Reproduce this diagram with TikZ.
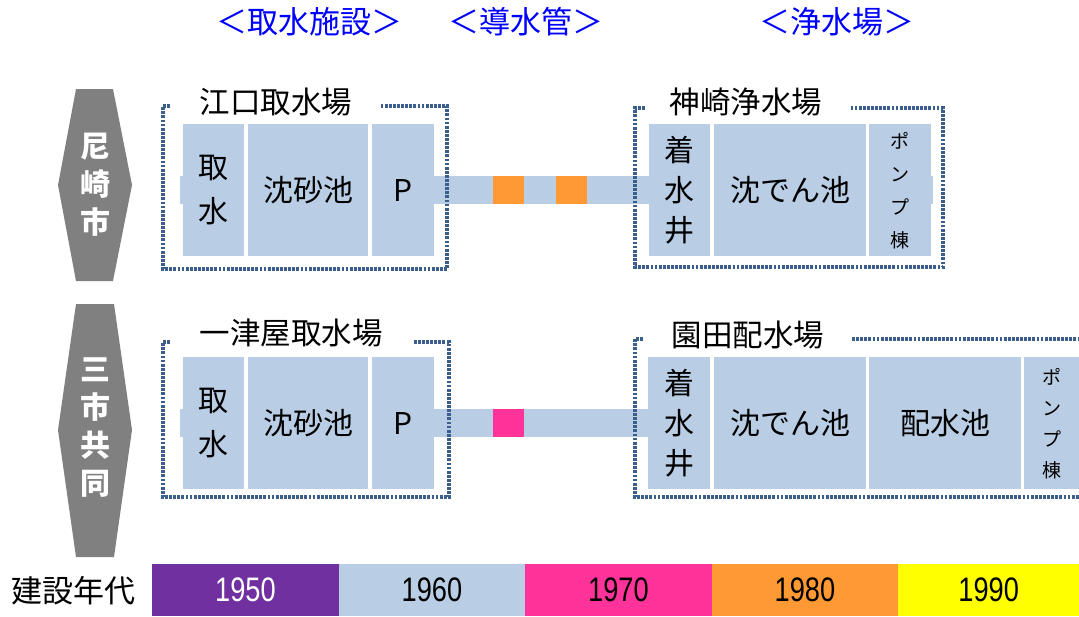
\documentclass[tikz,border=0pt]{standalone}
\usepackage{fontspec}
\setmainfont{Noto Sans CJK JP}
\newfontfamily\numfont[FakeStretch=0.8]{Liberation Sans}
\definecolor{cellblue}{HTML}{B9CDE5}
\definecolor{bordercol}{HTML}{3B5E8C}
\definecolor{orng}{HTML}{FF9933}
\definecolor{pnk}{HTML}{FF3399}
\definecolor{purp}{HTML}{7030A0}
\definecolor{yell}{HTML}{FFFF00}
\definecolor{hexgray}{HTML}{808080}
\definecolor{hdrblue}{HTML}{0000FF}
\begin{document}
\begin{tikzpicture}[x=1pt,y=-1pt,
  cell/.style={fill=cellblue, inner sep=0pt, anchor=north west, align=center, font=\fontsize{30}{44}\selectfont},
  pipe/.style={draw=cellblue, line width=28pt},
  blk/.style={minimum width=31pt, minimum height=28pt, inner sep=0pt},
  dotbox/.style={draw=bordercol, line width=3.2pt, dash pattern=on 2.8pt off 1.3pt},
  lbl/.style={inner sep=0pt, font=\fontsize{30.5}{30.5}\selectfont},
  hdr/.style={inner sep=0pt, text=hdrblue, font=\fontsize{31}{31}\selectfont},
  hextext/.style={inner sep=0pt, text=white, align=center, font=\bfseries\fontsize{30}{38}\selectfont},
  band/.style={anchor=north west, minimum height=52pt, inner sep=0pt, font=\numfont\fontsize{34}{34}\selectfont}
]
\useasboundingbox (0,0) rectangle (1079,616);

% headers
\node[hdr] (h1) at (309,22) {＜取水施設＞};
\node[hdr] (h2) at (526,22) {＜導水管＞};
\node[hdr] (h3) at (837,22) {＜浄水場＞};

% hexagons
\fill[hexgray] (76,89) -- (113,89) -- (132,185) -- (113,281) -- (76,281) -- (58,185) -- cycle;
\node[hextext] (hx1) at (95,185) {尼\\崎\\市};
\fill[hexgray] (76,304) -- (114,304) -- (132,430) -- (114,557) -- (76,557) -- (58,430) -- cycle;
\node[hextext] (hx2) at (95,428) {三\\市\\共\\同};

% ---------- row 1 ----------
\node[cell, minimum width=61pt, minimum height=132pt] (a1) at (183,124) {取\\水};
\node[cell, minimum width=120pt, minimum height=132pt] (b1) at (248,124) {沈砂池};
\node[cell, minimum width=62pt, minimum height=132pt] (p1) at (372,124) {P};
\node[cell, minimum width=61pt, minimum height=132pt, font=\fontsize{30}{40}\selectfont] (w1) at (649,124) {着\\水\\井};
\node[cell, minimum width=152pt, minimum height=132pt] (s1) at (714,124) {沈でん池};
\node[cell, minimum width=62pt, minimum height=132pt, font=\fontsize{19}{33}\selectfont] (k1) at (869,124) {ポ\\ン\\プ\\棟};

\draw[pipe] (p1.east) -- (w1.west);
\draw[pipe] (a1.west) -- ++(-3,0);
\draw[pipe] (k1.east) -- ++(2,0);
\node[blk, fill=orng] (o1) at (508.5,190) {};
\node[blk, fill=orng] (o2) at (571,190) {};

\draw[dotbox] (170,106) -- (163,106) -- (163,269) -- (447,269) -- (447,106) -- (380,106);
\node[lbl] (l1) at (276,102) {江口取水場};
\draw[dotbox] (645,108) -- (635,108) -- (635,267) -- (943,267) -- (943,108) -- (851,108);
\node[lbl] (l2) at (746,102) {神崎浄水場};

% ---------- row 2 ----------
\node[cell, minimum width=61pt, minimum height=132pt] (a2) at (183,357) {取\\水};
\node[cell, minimum width=120pt, minimum height=132pt] (b2) at (248,357) {沈砂池};
\node[cell, minimum width=62pt, minimum height=132pt] (p2) at (372,357) {P};
\node[cell, minimum width=62pt, minimum height=132pt, font=\fontsize{30}{40}\selectfont] (w2) at (648,357) {着\\水\\井};
\node[cell, minimum width=152pt, minimum height=132pt] (s2) at (714,357) {沈でん池};
\node[cell, minimum width=152pt, minimum height=132pt] (r2) at (869,357) {配水池};
\node[cell, minimum width=55pt, minimum height=132pt, font=\fontsize{19}{31}\selectfont] (k2) at (1024,357) {ポ\\ン\\プ\\棟};

\draw[pipe] (p2.east) -- (w2.west);
\draw[pipe] (a2.west) -- ++(-3,0);
\node[blk, fill=pnk] (m1) at (508.5,423) {};

\draw[dotbox] (170,342) -- (163,342) -- (163,497) -- (449,497) -- (449,342) -- (413,342);
\node[lbl] (l3) at (291,333) {一津屋取水場};
\draw[dotbox] (643,339) -- (635,339) -- (635,497) -- (1082,497);
\draw[dotbox] (852,339) -- (1082,339);
\node[lbl] (l4) at (748,335) {園田配水場};

% ---------- legend ----------
\node[inner sep=0pt, font=\fontsize{31}{31}\selectfont] (lg) at (73,591) {建設年代};
\node[band, fill=purp, text=white, minimum width=186.5pt] (y50) at (152,564) {1950};
\node[band, fill=cellblue, minimum width=186.5pt] (y60) at (338.5,564) {1960};
\node[band, fill=pnk, minimum width=186.5pt] (y70) at (525,564) {1970};
\node[band, fill=orng, minimum width=186.5pt] (y80) at (711.5,564) {1980};
\node[band, fill=yell, minimum width=181pt] (y90) at (898,564) {1990};
\end{tikzpicture}
\end{document}
